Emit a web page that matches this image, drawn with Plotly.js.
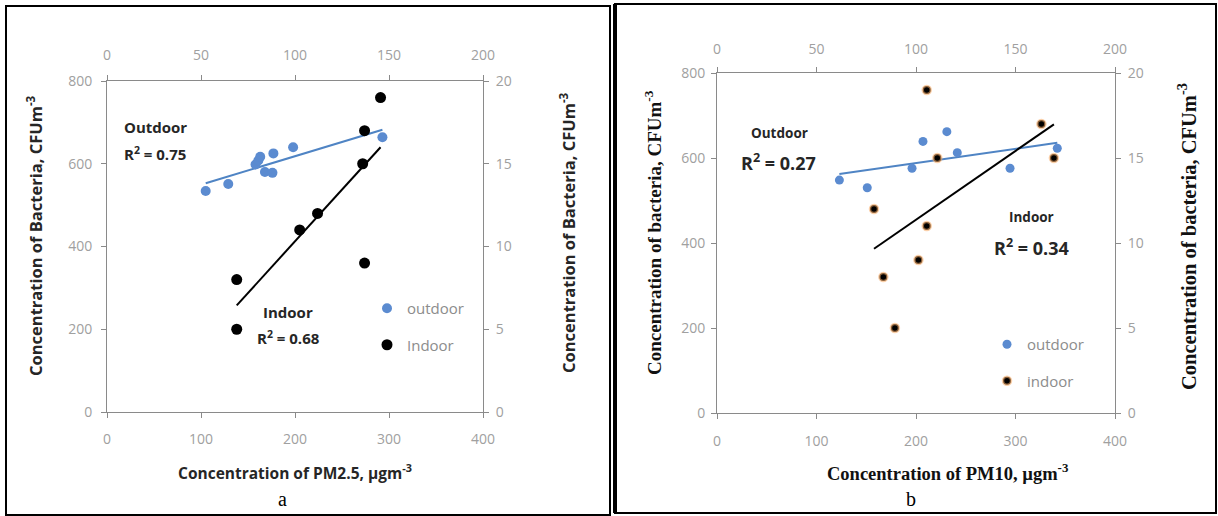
<!DOCTYPE html>
<html>
<head>
<meta charset="utf-8">
<script src="https://cdn.plot.ly/plotly-3.0.1.min.js"></script>
<style>html,body{margin:0;padding:0;background:#fff;}#chart{width:1218px;height:516px;}</style>
</head>
<body>
<div id="chart"></div>
<script>
// ---- Data ----
// Panel a: PM2.5
const pm25Outdoor = [105, 129, 158, 161, 163, 168, 176, 177, 198, 293];          // bottom axis, µg m-3
const bactOutdoorA = [534, 551, 598, 608, 617, 580, 578, 625, 640, 664];        // left axis, CFU m-3
const pm25Indoor = [69, 69, 102.5, 112, 137, 136, 137, 145.5];                   // top axis, µg m-3
const bactIndoorA = [8, 5, 11, 12, 9, 15, 17, 19];                               // right axis, CFU m-3
// Panel b: PM10
const pm10Outdoor = [123, 151, 196, 207, 231, 241.5, 294.5, 342];                // bottom axis
const bactOutdoorB = [548, 530, 576, 639, 662, 612.5, 576, 623];                 // left axis
const pm10Indoor = [105.4, 110.7, 163, 169.3, 78.9, 105.4, 101.2, 83.6, 89.4];   // top axis
const bactIndoorB = [19, 15, 17, 15, 12, 11, 9, 8, 5];                           // right axis

const seriesNamesA = ['outdoor', 'Indoor'];
const seriesNamesB = ['outdoor', 'indoor'];
const r2Labels = ['0.75', '0.68', '0.27', '0.34'];

// ---- helpers ----
function fit(xs, ys) {
  const n = xs.length;
  const mx = xs.reduce((a, b) => a + b, 0) / n;
  const my = ys.reduce((a, b) => a + b, 0) / n;
  let sxy = 0, sxx = 0;
  for (let i = 0; i < n; i++) { sxy += (xs[i] - mx) * (ys[i] - my); sxx += (xs[i] - mx) ** 2; }
  const b = sxy / sxx, a = my - b * mx;
  const x0 = Math.min(...xs), x1 = Math.max(...xs);
  return { x: [x0, x1], y: [a + b * x0, a + b * x1] };
}
const W = 1218, H = 516;
const PX = p => p / W;
const PY = p => 1 - p / H;

const blue = '#5b8bd0';
const blueLine = '#4f84c4';

const fOA = fit(pm25Outdoor, bactOutdoorA);
const fIA = fit(pm25Indoor, bactIndoorA);
const fOB = fit(pm10Outdoor, bactOutdoorB);
const fIB = fit(pm10Indoor, bactIndoorB);

const traces = [
  // panel a
  { x: fOA.x, y: fOA.y, xaxis: 'x', yaxis: 'y', mode: 'lines', line: { color: blueLine, width: 2 }, showlegend: false, hoverinfo: 'skip' },
  { x: fIA.x, y: fIA.y, xaxis: 'x2', yaxis: 'y2', mode: 'lines', line: { color: '#000', width: 2 }, showlegend: false, hoverinfo: 'skip' },
  { x: pm25Outdoor, y: bactOutdoorA, xaxis: 'x', yaxis: 'y', mode: 'markers', name: seriesNamesA[0], legend: 'legend', legendgroup: 'a1',
    marker: { color: blue, size: 10 } },
  { x: pm25Indoor, y: bactIndoorA, xaxis: 'x2', yaxis: 'y2', mode: 'markers', name: seriesNamesA[1], legend: 'legend', legendgroup: 'a2',
    marker: { color: '#000', size: 11 } },
  // panel b
  { x: fOB.x, y: fOB.y, xaxis: 'x3', yaxis: 'y3', mode: 'lines', line: { color: blueLine, width: 2 }, showlegend: false, hoverinfo: 'skip' },
  { x: fIB.x, y: fIB.y, xaxis: 'x4', yaxis: 'y4', mode: 'lines', line: { color: '#000', width: 2 }, showlegend: false, hoverinfo: 'skip' },
  { x: pm10Outdoor, y: bactOutdoorB, xaxis: 'x3', yaxis: 'y3', mode: 'markers', name: seriesNamesB[0], legend: 'legend2', legendgroup: 'b1',
    marker: { color: blue, size: 9 } },
  { x: pm10Indoor, y: bactIndoorB, xaxis: 'x4', yaxis: 'y4', mode: 'markers', name: seriesNamesB[1], legend: 'legend2', legendgroup: 'b2',
    marker: { color: '#000', size: 8, line: { color: 'rgba(245,170,100,0.55)', width: 2.5 } } }
];

const tickFont = { family: 'Open Sans, sans-serif', size: 14, color: '#a0a0a0' };
function ax(extra) {
  return Object.assign({
    showgrid: false, zeroline: false, showline: true, linecolor: '#8a8a8a', linewidth: 1,
    ticks: 'outside', ticklen: 5, tickcolor: '#8a8a8a', tickfont: tickFont, fixedrange: true
  }, extra);
}

const domAx = [PX(107), PX(483)], domAy = [PY(412), PY(81)];
const domBx = [PX(717), PX(1115)], domBy = [PY(413), PY(73)];

const sansBold = { family: 'Open Sans, sans-serif', size: 15, color: '#262626', weight: 'bold' };
const serifBold = { family: 'Liberation Serif, Times New Roman, serif', size: 19, color: '#111', weight: 'bold' };

function ann(text, x, y, font, extra) {
  return Object.assign({ text: text, x: PX(x), y: PY(y), xref: 'paper', yref: 'paper', showarrow: false,
    xanchor: 'center', yanchor: 'middle', font: font }, extra || {});
}

const annotations = [
  // panel a
  ann('Outdoor', 122, 127, sansBold, { xanchor: 'left' }),
  ann('R<sup>2</sup> = ' + r2Labels[0], 122, 153, sansBold, { xanchor: 'left' }),
  ann('Indoor', 288, 312, sansBold),
  ann('R<sup>2</sup> = ' + r2Labels[1], 288, 337, sansBold),
  ann('Concentration of Bacteria, CFUm<sup>-3</sup>', 35, 236, Object.assign({}, sansBold, { size: 16.5 }), { textangle: -90 }),
  ann('Concentration of Bacteria, CFUm<sup>-3</sup>', 568, 233, Object.assign({}, sansBold, { size: 16.5 }), { textangle: -90 }),
  ann('Concentration of PM2.5, µgm<sup>-3</sup>', 295, 472, Object.assign({}, sansBold, { size: 15.5 })),
  ann('a', 282, 499, { family: 'Liberation Serif, Times New Roman, serif', size: 20, color: '#000' }),
  // panel b
  ann('Outdoor', 779, 133, Object.assign({}, sansBold, { size: 13.5 })),
  ann('R<sup>2</sup> = ' + r2Labels[2], 778, 162, Object.assign({}, sansBold, { size: 18 })),
  ann('Indoor', 1031, 217, Object.assign({}, sansBold, { size: 13.5 })),
  ann('R<sup>2</sup> = ' + r2Labels[3], 1031, 247, Object.assign({}, sansBold, { size: 18 })),
  ann('Concentration of bacteria, CFUm<sup>-3</sup>', 653, 233, serifBold, { textangle: -90 }),
  ann('Concentration of bacteria, CFUm<sup>-3</sup>', 1187, 237, Object.assign({}, serifBold, { size: 20.5 }), { textangle: -90 }),
  ann('Concentration of PM10, µgm<sup>-3</sup>', 948, 472, Object.assign({}, serifBold, { size: 18.5 })),
  ann('b', 911, 499, { family: 'Liberation Serif, Times New Roman, serif', size: 20, color: '#000' })
];

const shapes = [
  { type: 'rect', xref: 'paper', yref: 'paper', x0: PX(6), x1: PX(610), y0: PY(515), y1: PY(6), line: { color: '#000', width: 2 } },
  { type: 'rect', xref: 'paper', yref: 'paper', x0: PX(615), x1: PX(1216), y0: PY(513), y1: PY(4), line: { color: '#000', width: 2 } },
  { type: 'line', xref: 'paper', yref: 'paper', x0: PX(615), x1: PX(615), y0: PY(513), y1: PY(4), line: { color: '#000', width: 4 } }
];

const legendBase = { bgcolor: 'rgba(0,0,0,0)', font: { family: 'Open Sans, sans-serif', size: 15, color: '#8c8c8c' },
  xanchor: 'left', yanchor: 'top', tracegroupgap: 14, itemclick: false, itemdoubleclick: false };

const layout = {
  width: W, height: H,
  margin: { l: 0, r: 0, t: 0, b: 0 },
  paper_bgcolor: '#fff', plot_bgcolor: 'rgba(0,0,0,0)',
  showlegend: true,
  legend: Object.assign({}, legendBase, { x: PX(367), y: PY(292) }),
  legend2: Object.assign({}, legendBase, { x: PX(987), y: PY(328) }),
  xaxis: ax({ domain: domAx, anchor: 'y', range: [0, 400], dtick: 100, tick0: 0, ticklabelstandoff: 9 }),
  xaxis2: ax({ overlaying: 'x', side: 'top', anchor: 'y', range: [0, 200], dtick: 50, tick0: 0, ticklabelstandoff: 9 }),
  yaxis: ax({ domain: domAy, anchor: 'x', range: [0, 800], dtick: 200, tick0: 0, ticklabelstandoff: 6 }),
  yaxis2: ax({ overlaying: 'y', side: 'right', anchor: 'x', range: [0, 20], dtick: 5, tick0: 0, ticklabelstandoff: 4 }),
  xaxis3: ax({ domain: domBx, anchor: 'y3', range: [0, 400], dtick: 100, tick0: 0, ticklabelstandoff: 10 }),
  xaxis4: ax({ overlaying: 'x3', side: 'top', anchor: 'y3', range: [0, 200], dtick: 50, tick0: 0, ticklabelstandoff: 7 }),
  yaxis3: ax({ domain: domBy, anchor: 'x3', range: [0, 800], dtick: 200, tick0: 0, ticklabelstandoff: 3 }),
  yaxis4: ax({ overlaying: 'y3', side: 'right', anchor: 'x3', range: [0, 20], dtick: 5, tick0: 0, ticklabelstandoff: 4 }),
  annotations: annotations,
  shapes: shapes
};

Plotly.newPlot('chart', traces, layout, { staticPlot: true, displayModeBar: false });
</script>
</body>
</html>
